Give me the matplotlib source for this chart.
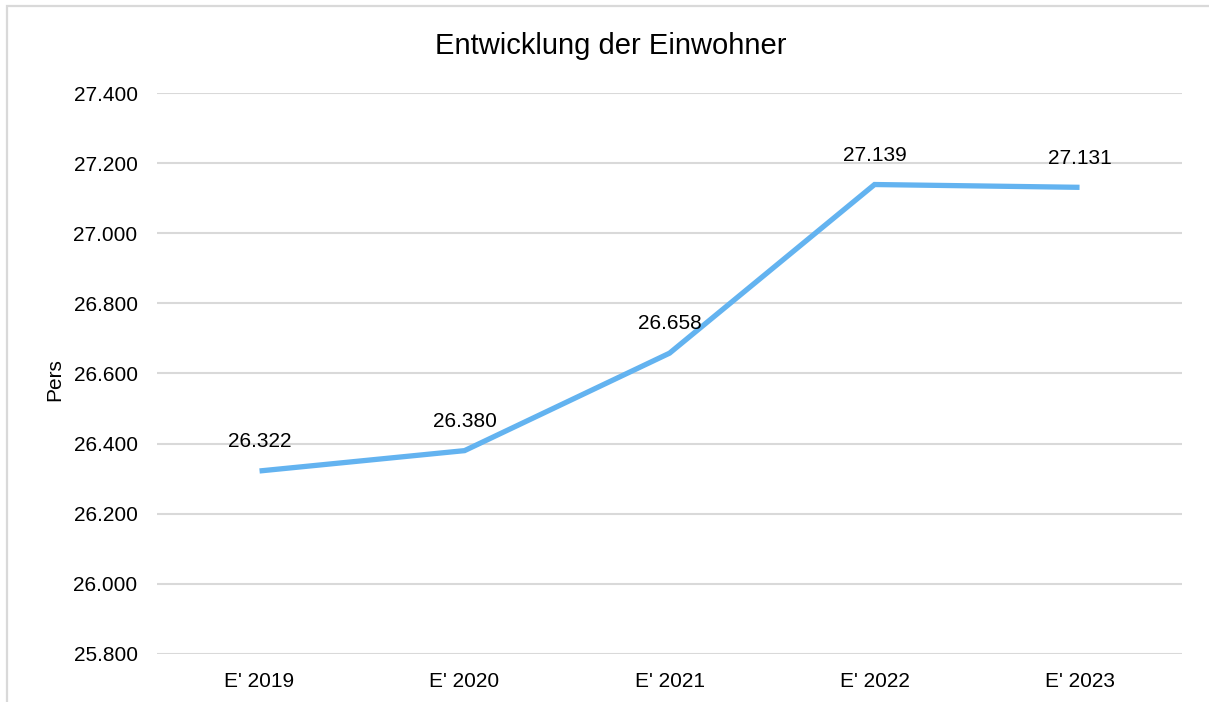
import matplotlib.pyplot as plt
from matplotlib.patches import Rectangle
from matplotlib.ticker import FuncFormatter

plt.rcParams['font.family'] = ['Liberation Sans', 'DejaVu Sans']

years = ["E' 2019", "E' 2020", "E' 2021", "E' 2022", "E' 2023"]
einwohner = [26322, 26380, 26658, 27139, 27131]
y_ticks = [25800, 26000, 26200, 26400, 26600, 26800, 27000, 27200, 27400]


def de_format(v, pos=None):
    return '{:,.0f}'.format(v).replace(',', '.')


fig = plt.figure(figsize=(12.09, 7.02), dpi=100)
ax = fig.add_axes([0.1299, 0.0684, 0.8478, 0.7991])

x = list(range(len(years)))
ax.plot(x, einwohner, color='#63B3F0', linewidth=3.8, solid_capstyle='butt',
        solid_joinstyle='miter', zorder=3)

for xi, v in zip(x, einwohner):
    ax.annotate(de_format(v), (xi, v), xytext=(0, 21), textcoords='offset points',
                ha='center', va='center', fontsize=15, color='black')

ax.set_xlim(-0.5, len(years) - 0.5)
ax.set_ylim(y_ticks[0], y_ticks[-1])
ax.set_yticks(y_ticks)
ax.yaxis.set_major_formatter(FuncFormatter(de_format))
ax.set_xticks(x)
ax.set_xticklabels(years)
ax.tick_params(axis='both', length=0, labelsize=15, colors='black')
ax.tick_params(axis='y', pad=14)
ax.tick_params(axis='x', pad=13)
ax.grid(axis='y', color='#D9D9D9', linewidth=1.5)
ax.set_axisbelow(True)
for s in ax.spines.values():
    s.set_visible(False)

ax.set_ylabel('Pers', fontsize=15)
ax.yaxis.set_label_coords(-0.0905, 0.49)

fig.text(0.505, 0.935, 'Entwicklung der Einwohner', ha='center', va='center', fontsize=21)

# outer chart frame (right and bottom edges fall outside the picture)
fig.patches.append(Rectangle((6.5 / 1209, -0.05), 1.2, 1 - 5.5 / 702 + 0.05,
                             transform=fig.transFigure, fill=False,
                             edgecolor='#D9D9D9', linewidth=1.6))

fig.savefig('out.png', dpi=100)
